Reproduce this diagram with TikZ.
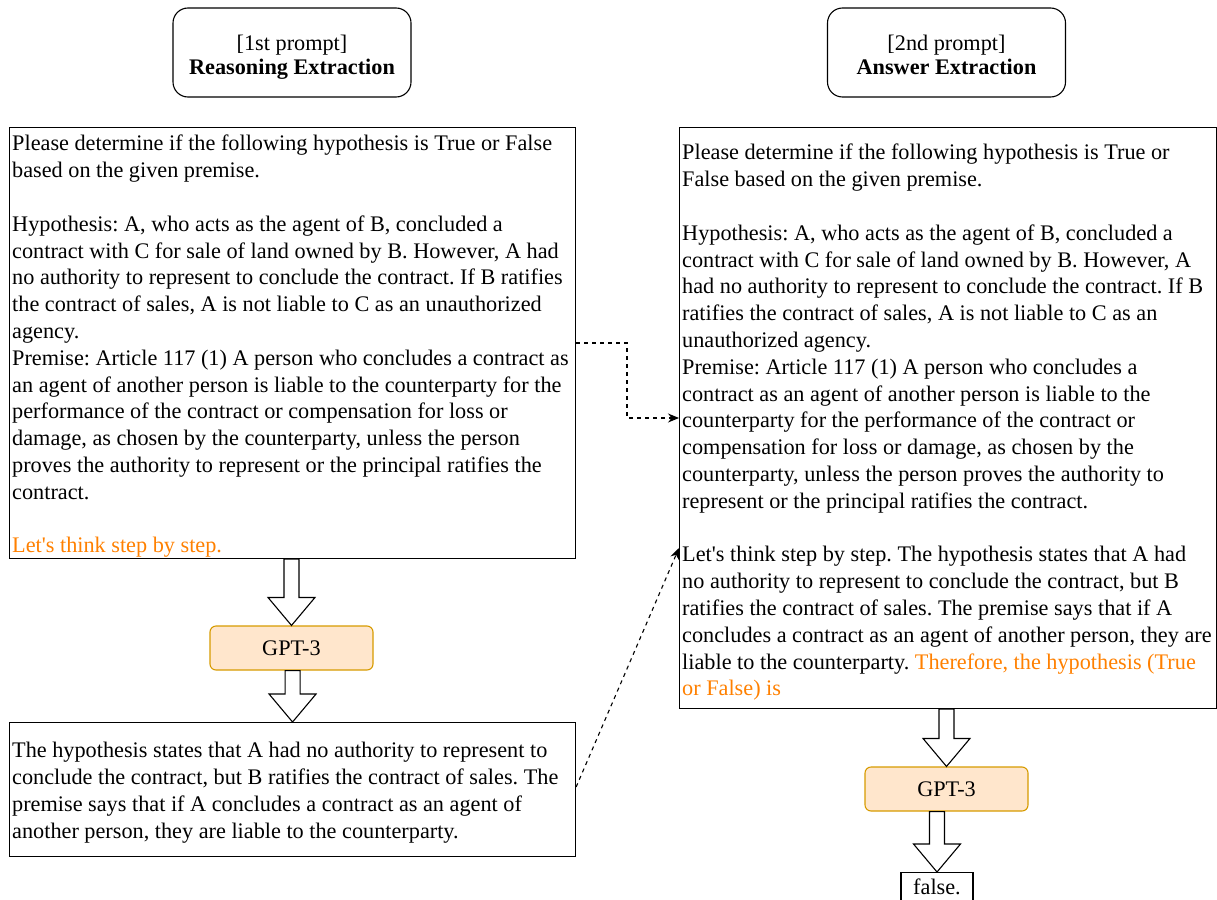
\documentclass[tikz,border=0pt]{standalone}
\usepackage{fontspec}
\setmainfont{Liberation Serif}
\usetikzlibrary{calc,arrows.meta}
\definecolor{orng}{HTML}{FF8000}
\definecolor{gptfill}{HTML}{FFE6CC}
\definecolor{gptline}{HTML}{D79B00}
\frenchspacing
\newcommand\myblockarrow[2]{%
  \draw[blockarr] ($(#2.north |- #1.south)+(-7.5,0)$) -- ($(#2.north)+(-7.5,-28)$)
    -- ($(#2.north)+(-23.5,-28)$) -- (#2.north) -- ($(#2.north)+(23.5,-28)$)
    -- ($(#2.north)+(7.5,-28)$) -- ($(#2.north |- #1.south)+(7.5,0)$) -- cycle;}
\begin{document}
\begin{tikzpicture}[x=1pt,y=-1pt,
  font=\fontsize{22.25}{26.8}\selectfont,
  box/.style={draw, line width=1.1pt, rectangle, inner sep=0pt, anchor=north west},
  txt/.style={anchor=north west, inner sep=0pt, align=left},
  titlebox/.style={draw, line width=1.1pt, rounded corners=15pt, minimum width=238pt,
    minimum height=89pt, inner sep=0pt},
  titletxt/.style={align=center, inner sep=0pt, font=\fontsize{22.25}{24}\selectfont},
  gpt/.style={draw=gptline, fill=gptfill, line width=1.1pt, rounded corners=6pt,
    minimum width=163pt, minimum height=44pt, inner sep=0pt},
  blockarr/.style={draw, line width=1.1pt, fill=white, line join=miter},
  dashconn/.style={draw, line width=1.1pt, dash pattern=on 4pt off 4pt,
    -{Stealth[length=11pt,width=9pt]}}
]
\useasboundingbox (0,0) rectangle (1217,899);

% titles
\node[titlebox] (t1box) at (292,52.5) {};
\node[titletxt] (t1) at (292,57.5) {\strut[1st prompt]\\\strut\textbf{Reasoning Extraction}};
\node[titlebox] (t2box) at (946.5,52.5) {};
\node[titletxt] (t2) at (946.5,57.5) {\strut[2nd prompt]\\\strut\textbf{Answer Extraction}};

% left prompt box
\node[box, minimum width=566pt, minimum height=431pt] (lb) at (9,127) {};
\node[txt] (lt) at (12,132) {\strut Please determine if the following hypothesis is True or False\\
based on the given premise.\\
\strut\\
Hypothesis: A, who acts as the agent of B, concluded a\\
contract with C for sale of land owned by B. However, A had\\
no authority to represent to conclude the contract. If B ratifies\\
the contract of sales, A is not liable to C as an unauthorized\\
agency.\\
Premise: Article 117 (1) A person who concludes a contract as\\
an agent of another person is liable to the counterparty for the\\
performance of the contract or compensation for loss or\\
damage, as chosen by the counterparty, unless the person\\
proves the authority to represent or the principal ratifies the\\
contract.\\
\strut\\
\textcolor{orng}{Let\textquotesingle s think step by step.}};

% GPT-3 left
\node[gpt] (g1) at (291.5,648) {GPT-3};

% bottom-left output box
\node[box, minimum width=566pt, minimum height=134pt] (ob) at (9,722) {};
\node[txt] (ot) at (12,739) {\strut The hypothesis states that A had no authority to represent to\\
conclude the contract, but B ratifies the contract of sales. The\\
premise says that if A concludes a contract as an agent of\\
another person, they are liable to the counterparty.};

% right prompt box
\node[box, minimum width=537pt, minimum height=581pt] (rb) at (679,127) {};
\node[txt] (rt) at (682,141) {\strut Please determine if the following hypothesis is True or\\
False based on the given premise.\\
\strut\\
Hypothesis: A, who acts as the agent of B, concluded a\\
contract with C for sale of land owned by B. However, A\\
had no authority to represent to conclude the contract. If B\\
ratifies the contract of sales, A is not liable to C as an\\
unauthorized agency.\\
Premise: Article 117 (1) A person who concludes a\\
contract as an agent of another person is liable to the\\
counterparty for the performance of the contract or\\
compensation for loss or damage, as chosen by the\\
counterparty, unless the person proves the authority to\\
represent or the principal ratifies the contract.\\
\strut\\
Let\textquotesingle s think step by step. The hypothesis states that A had\\
no authority to represent to conclude the contract, but B\\
ratifies the contract of sales. The premise says that if A\\
concludes a contract as an agent of another person, they are\\
liable to the counterparty. \textcolor{orng}{Therefore, the hypothesis (True}\\
\textcolor{orng}{or False) is}};

% GPT-3 right
\node[gpt] (g2) at (946.5,789) {GPT-3};

% false box
\node[draw, line width=1.1pt, minimum width=72pt, minimum height=29pt, inner sep=0pt,
  anchor=north] (fb) at (937,872) {false.};

% block arrows
\myblockarrow{lb}{g1}
\myblockarrow{g1}{ob}
\myblockarrow{rb}{g2}
\myblockarrow{g2}{fb}

% dashed connectors
\draw[dashconn] (lb.east |- 0,343) -- (627,343) -- (627,418) -- (rb.west |- 0,418);
\draw[dashconn] (ob.east |- 0,787) -- (rb.west |- 0,548);
\end{tikzpicture}
\end{document}
